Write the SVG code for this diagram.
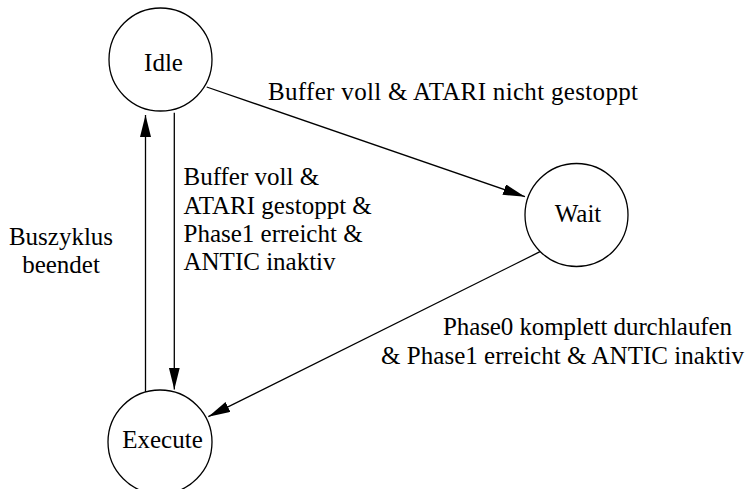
<svg xmlns="http://www.w3.org/2000/svg" width="747" height="489" viewBox="0 0 747 489">
  <style>
    .state { fill: #ffffff; stroke: #000000; stroke-width: 1.3; }
    .edge { fill: none; stroke: #000000; stroke-width: 1.3; marker-end: url(#arrow); }
    .mid { text-anchor: middle; }
  </style>
  <defs>
    <marker id="arrow" markerUnits="userSpaceOnUse" markerWidth="23" markerHeight="12" refX="22" refY="5.5" orient="auto">
      <path d="M0,0 L22,5.5 L0,11 z" fill="#000000"/>
    </marker>
  </defs>

  <!-- transitions -->
  <g id="connectors">
    <line class="edge" x1="206.7" y1="87" x2="525" y2="196.7"/>
    <line class="edge" x1="540" y1="251.7" x2="208.3" y2="416.7"/>
    <line class="edge" x1="174.3" y1="112.7" x2="174.3" y2="389.5"/>
    <line class="edge" x1="145.5" y1="393" x2="145.5" y2="115"/>
  </g>

  <g font-family="Liberation Serif, DejaVu Serif, serif" font-size="25" fill="#000000">
    <!-- transition labels -->
    <g id="labels">
      <text x="268" y="100" textLength="370" lengthAdjust="spacing">Buffer voll &amp; ATARI nicht gestoppt</text>
      <text x="183.5" y="185">Buffer voll &amp;</text>
      <text x="183.5" y="213.5">ATARI gestoppt &amp;</text>
      <text x="183.5" y="242">Phase1 erreicht &amp;</text>
      <text x="183.5" y="270">ANTIC inaktiv</text>
      <text class="mid" x="61" y="245">Buszyklus</text>
      <text class="mid" x="61" y="273">beendet</text>
      <text x="443" y="335" textLength="289" lengthAdjust="spacing">Phase0 komplett durchlaufen</text>
      <text x="381" y="363.5" textLength="363" lengthAdjust="spacing">&amp; Phase1 erreicht &amp; ANTIC inaktiv</text>
    </g>

    <g id="idle">
      <circle class="state" cx="160.5" cy="59.5" r="51.5"/>
      <text class="mid" x="163.5" y="70.5">Idle</text>
    </g>

    <g id="wait">
      <circle class="state" cx="576.5" cy="215" r="51.5"/>
      <text class="mid" x="578" y="221.5">Wait</text>
    </g>

    <g id="execute">
      <circle class="state" cx="160" cy="442" r="52"/>
      <text class="mid" x="162.5" y="448">Execute</text>
    </g>
  </g>
</svg>
